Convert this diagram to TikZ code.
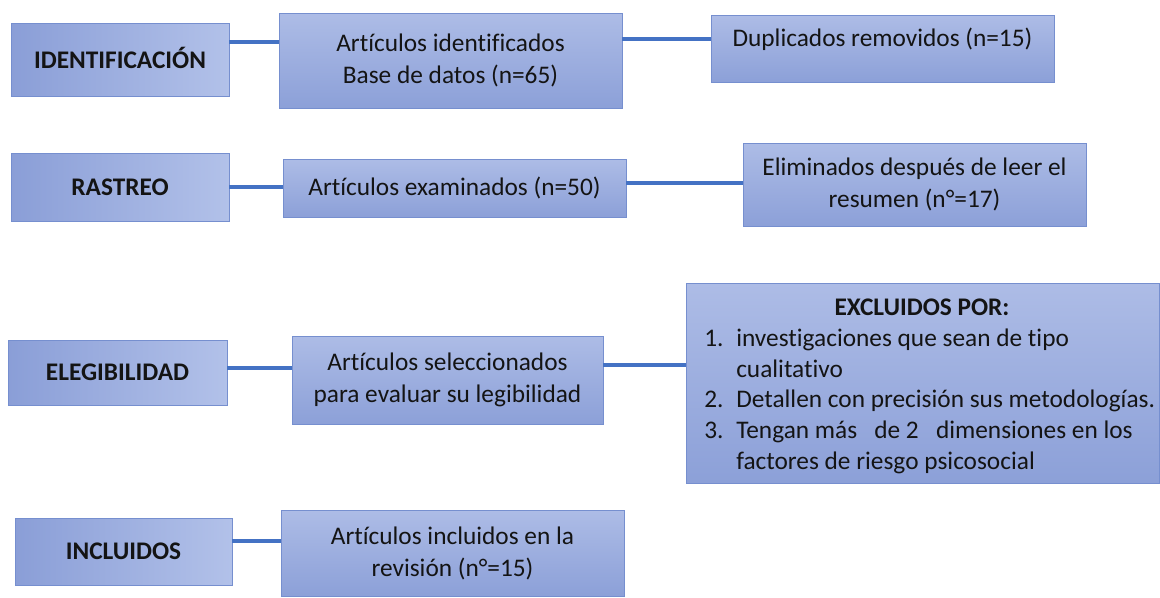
\documentclass[tikz,border=0pt]{standalone}
\usepackage{fontspec}
\setmainfont{Carlito}[Ligatures={NoCommon}]
\usetikzlibrary{calc}
\definecolor{boxtop}{RGB}{173,188,230}
\definecolor{boxbot}{RGB}{140,160,216}
\definecolor{boxleft}{RGB}{138,158,215}
\definecolor{boxright}{RGB}{178,193,233}
\definecolor{boxline}{RGB}{118,143,207}
\definecolor{conn}{RGB}{68,114,196}
\definecolor{txt}{RGB}{20,20,20}
\newcommand\mybox[7]{%
  \pgfmathsetmacro\bw{(#5-#3)*0.75}%
  \pgfmathsetmacro\bh{(#6-#4)*0.75}%
  \node[#2, minimum width=\bw pt, minimum height=\bh pt] (#1) at ({(#3+#5)/2},{(#4+#6)/2}) {#7};%
}
\begin{document}
\begin{tikzpicture}[x=0.75pt,y=-0.75pt,
  every node/.style={text=txt, font=\fontsize{19}{24}\selectfont},
  basebox/.style={draw=boxline, line width=0.6pt, inner sep=0pt, align=center},
  stagebox/.style={basebox, left color=boxleft, right color=boxright, font=\fontsize{19}{24}\selectfont\bfseries},
  stepbox/.style={basebox, top color=boxtop, bottom color=boxbot},
  conline/.style={draw=conn, line width=2.6pt},
  listtxt/.style={anchor=base west, inner sep=0pt}]
\useasboundingbox (0,0) rectangle (1160,597);
\fill[white] (0,0) rectangle (1160,597);

% left stage boxes
\mybox{id}{stagebox}{11}{23}{229}{96}{\raisebox{3pt}{IDENTIFICACIÓN}}
\mybox{ras}{stagebox}{11}{153}{229}{221}{RASTREO}
\mybox{eleg}{stagebox}{8}{340}{227}{405}{\raisebox{-3pt}{ELEGIBILIDAD}}
\mybox{inc}{stagebox}{15}{518}{232}{585}{INCLUIDOS}

% middle boxes
\mybox{ai}{stepbox}{279}{13}{622}{108}{Artículos identificados\\Base de datos (n=65)}
\mybox{ae}{stepbox}{283}{159}{626}{217}{Artículos examinados (n=50)}
\mybox{as}{stepbox}{292}{336}{603}{424}{Artículos seleccionados\\para evaluar su legibilidad}
\mybox{ain}{stepbox}{281}{510}{624}{596}{Artículos incluidos en la\\revisión (n°=15)}

% right boxes
\mybox{dup}{stepbox}{711}{15}{1054}{82}{}
\node[anchor=center] (duptxt) at ($(dup.north)+(0,25)$) {Duplicados removidos (n=15)};
\mybox{el}{stepbox}{743}{143}{1086}{226}{Eliminados después de leer el\\resumen (n°=17)}
\mybox{ex}{stepbox}{686}{283}{1159}{483}{}

% excluded list
\node[anchor=base, inner sep=0pt, font=\fontsize{19}{24}\selectfont\bfseries] (extitle) at (922,315) {EXCLUIDOS POR:};
\node[listtxt] (n1) at (704,346) {1.};
\node[listtxt] (l1) at (736,346) {investigaciones que sean de tipo};
\node[listtxt] (l1b) at (736,377) {cualitativo};
\node[listtxt] (n2) at (704,407) {2.};
\node[listtxt] (l2) at (736,407) {Detallen con precisión sus metodologías.};
\node[listtxt] (n3) at (704,438) {3.};
\node[listtxt] (l3) at (736,438) {Tengan más\ \ \ de 2\ \ \ dimensiones en los};
\node[listtxt] (l3b) at (736,469) {factores de riesgo psicosocial};

% connectors
\draw[conline] (id.east |- 0,42) -- (ai.west |- 0,42);
\draw[conline] (ai.east |- 0,39) -- (dup.west |- 0,39);
\draw[conline] (ras.east |- 0,187) -- (ae.west |- 0,187);
\draw[conline] (ae.east |- 0,183) -- (el.west |- 0,183);
\draw[conline] (eleg.east |- 0,368) -- (as.west |- 0,368);
\draw[conline] (as.east |- 0,365) -- (ex.west |- 0,365);
\draw[conline] (inc.east |- 0,541) -- (ain.west |- 0,541);
\end{tikzpicture}
\end{document}
